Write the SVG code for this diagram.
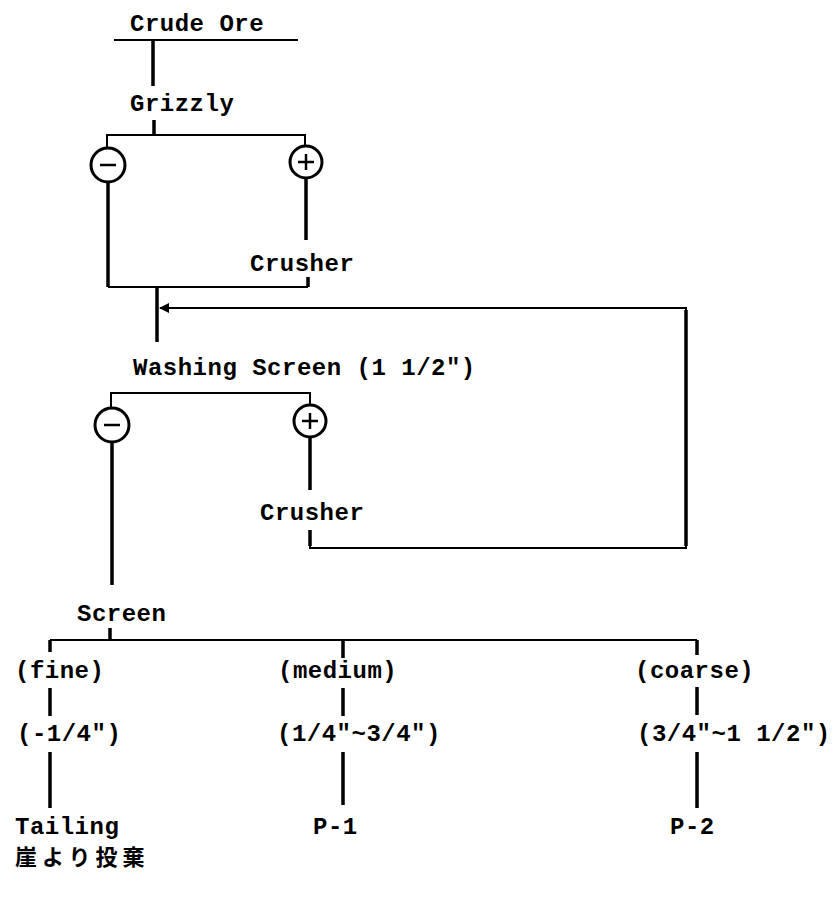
<svg xmlns="http://www.w3.org/2000/svg" width="834" height="899" viewBox="0 0 834 899">
<defs>
<style>
.t{font-family:"Liberation Mono","DejaVu Sans Mono",monospace;font-weight:bold;font-size:24px;letter-spacing:0.5px;fill:#000}
.j{font-family:"Noto Sans CJK JP","Noto Sans CJK SC",sans-serif;font-weight:bold;font-size:22px;letter-spacing:5px;fill:#000}
.v{stroke:#000;stroke-width:3.5;fill:none}
.h{stroke:#000;stroke-width:2;fill:none}
.c{stroke:#000;stroke-width:3;fill:#fff}
.s{stroke:#000;stroke-width:2.5}
</style>
<marker id="ah" viewBox="0 0 10 10" refX="9" refY="5" markerWidth="5" markerHeight="5" orient="auto-start-reverse">
<path d="M0,0 L10,5 L0,10 z" fill="#000"/>
</marker>
</defs>
<rect width="834" height="899" fill="#fff"/>
<g id="connectors">
<line class="h" x1="114" y1="40" x2="298" y2="40"/>
<line class="v" x1="153" y1="40" x2="153" y2="86"/>
<line class="v" x1="154" y1="120" x2="154" y2="135"/>
<polyline class="h" points="107,149 107,135 305,135 305,147"/>
<line class="v" x1="108" y1="182" x2="108" y2="287"/>
<line class="v" x1="306" y1="178" x2="306" y2="240"/>
<line class="v" x1="308" y1="277" x2="308" y2="287"/>
<line class="h" x1="108" y1="287" x2="308" y2="287"/>
<line class="v" x1="157" y1="287" x2="157" y2="342"/>
<polyline class="h" points="310,530 310,548 686,548 686,308 160,308" marker-end="url(#ah)"/>
<line class="v" x1="686" y1="310" x2="686" y2="546"/>
<line class="v" x1="310" y1="530" x2="310" y2="546"/>
<polyline class="h" points="111,409 111,393 310,393 310,406"/>
<line class="v" x1="112" y1="442" x2="112" y2="585"/>
<line class="v" x1="310" y1="438" x2="310" y2="490"/>
<line class="v" x1="110" y1="628" x2="110" y2="640"/>
<line class="h" x1="50" y1="640" x2="697" y2="640"/>
<line class="v" x1="50" y1="640" x2="50" y2="652"/>
<line class="v" x1="343" y1="640" x2="343" y2="658"/>
<line class="v" x1="697" y1="640" x2="697" y2="655"/>
<line class="v" x1="50" y1="688" x2="50" y2="716"/>
<line class="v" x1="343" y1="688" x2="343" y2="716"/>
<line class="v" x1="697" y1="687" x2="697" y2="715"/>
<line class="v" x1="50" y1="752" x2="50" y2="808"/>
<line class="v" x1="343" y1="752" x2="343" y2="805"/>
<line class="v" x1="697" y1="752" x2="697" y2="808"/>
</g>
<g id="crude-ore"><text class="t" x="130" y="31">Crude Ore</text></g>
<g id="grizzly"><text class="t" x="130" y="111">Grizzly</text></g>
<g id="grizzly-minus"><circle class="c" cx="108" cy="165" r="17"/><line class="s" x1="100" y1="165" x2="116" y2="165"/></g>
<g id="grizzly-plus"><circle class="c" cx="306" cy="162" r="16"/><line class="s" x1="298" y1="162" x2="314" y2="162"/><line class="s" x1="306" y1="154" x2="306" y2="170"/></g>
<g id="crusher1"><text class="t" x="250" y="271">Crusher</text></g>
<g id="washing-screen"><text class="t" x="133" y="375">Washing Screen (1 1/2")</text></g>
<g id="ws-minus"><circle class="c" cx="112" cy="425" r="17"/><line class="s" x1="104" y1="425" x2="120" y2="425"/></g>
<g id="ws-plus"><circle class="c" cx="310" cy="421" r="16"/><line class="s" x1="302" y1="421" x2="318" y2="421"/><line class="s" x1="310" y1="413" x2="310" y2="429"/></g>
<g id="crusher2"><text class="t" x="260" y="520">Crusher</text></g>
<g id="screen"><text class="t" x="77" y="621">Screen</text></g>
<g id="fine"><text class="t" x="15" y="678">(fine)</text></g>
<g id="medium"><text class="t" x="278" y="678">(medium)</text></g>
<g id="coarse"><text class="t" x="635" y="678">(coarse)</text></g>
<g id="fine-size"><text class="t" x="17" y="741">(-1/4")</text></g>
<g id="medium-size"><text class="t" x="277" y="741">(1/4"~3/4")</text></g>
<g id="coarse-size"><text class="t" x="637" y="741">(3/4"~1 1/2")</text></g>
<g id="tailing"><text class="t" x="15" y="834">Tailing</text></g>
<g id="p1"><text class="t" x="313" y="834">P-1</text></g>
<g id="p2"><text class="t" x="670" y="834">P-2</text></g>
<g id="note"><text class="j" x="15" y="865">崖より投棄</text></g>
</svg>
